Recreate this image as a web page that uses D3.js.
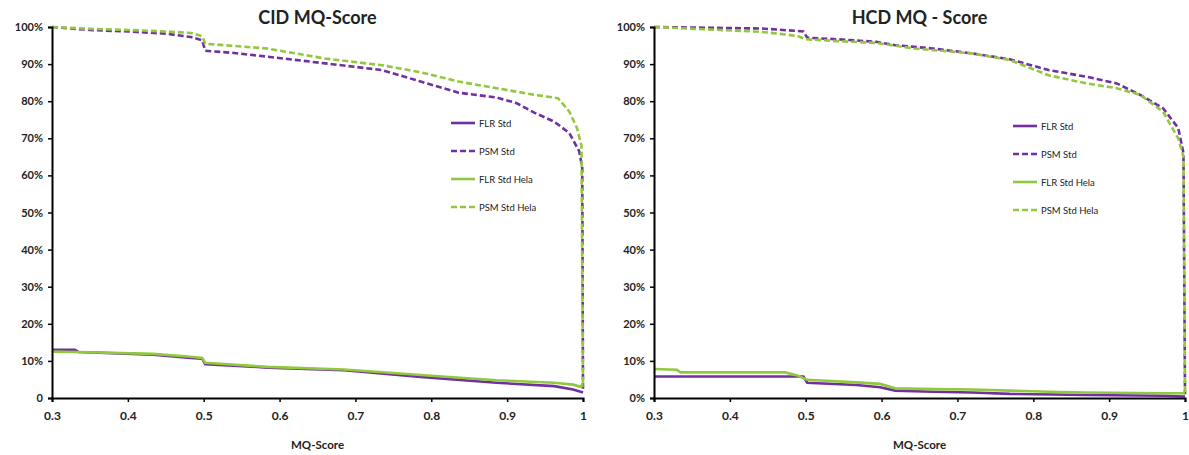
<!DOCTYPE html>
<html><head><meta charset="utf-8">
<script src="https://cdn.jsdelivr.net/npm/d3@7"></script>
<style>
body{margin:0;background:#fff;}
svg{display:block;}
text{font-family:Lato,"Liberation Sans",sans-serif;fill:#222;}
</style></head><body>
<svg id="c" width="1189" height="455"></svg>
<script>
// ---- data (MQ-Score, percent) ----
const xTicks = [0.3,0.4,0.5,0.6,0.7,0.8,0.9,1];
const xTickLabels = ["0.3","0.4","0.5","0.6","0.7","0.8","0.9","1"];
const yTicks = [0,10,20,30,40,50,60,70,80,90,100];
const cidYTickLabels = ["0","10%","20%","30%","40%","50%","60%","70%","80%","90%","100%"];
const hcdYTickLabels = ["0%","10%","20%","30%","40%","50%","60%","70%","80%","90%","100%"];
const seriesNames = ["FLR Std","PSM Std","FLR Std Hela","PSM Std Hela"];
const titles = ["CID MQ-Score","HCD MQ - Score"];

const cidFlrStd = [[0.3,13],[0.33,13],[0.335,12.4],[0.433,11.7],[0.483,10.8],[0.498,10.6],[0.502,9.1],[0.533,8.8],[0.584,8.2],[0.685,7.5],[0.786,5.7],[0.886,4.1],[0.962,3.2],[0.987,2.3],[1.0,1.5]];
const cidPsmStd = [[0.3,100],[0.35,99.2],[0.4,98.8],[0.45,98.2],[0.483,97.3],[0.498,96.4],[0.502,93.6],[0.54,93],[0.584,92],[0.66,90.2],[0.735,88.4],[0.786,85.3],[0.836,82.3],[0.886,81],[0.912,79.5],[0.937,76.8],[0.962,74.5],[0.982,71.4],[0.995,66.5],[0.999,62],[1.0,2]];
const cidFlrHela = [[0.3,12.5],[0.335,12.4],[0.433,11.9],[0.483,11.1],[0.498,10.8],[0.502,9.5],[0.584,8.4],[0.685,7.7],[0.786,6.2],[0.886,4.8],[0.962,4.1],[0.987,3.6],[0.997,3],[1.0,4]];
const cidPsmHela = [[0.3,100],[0.35,99.5],[0.4,99.2],[0.45,98.8],[0.483,98.4],[0.498,97.5],[0.502,95.5],[0.584,94.2],[0.66,91.5],[0.735,89.7],[0.786,87.8],[0.836,85.3],[0.886,83.5],[0.937,81.7],[0.967,80.8],[0.982,77.2],[0.992,72.8],[0.998,68],[1.0,3]];

const hcdFlrStd = [[0.3,5.8],[0.497,5.8],[0.502,4.1],[0.567,3.5],[0.598,2.9],[0.618,2],[0.668,1.7],[0.719,1.5],[0.769,1.1],[0.87,0.8],[0.971,0.6],[1.0,0.4]];
const hcdPsmStd = [[0.3,100],[0.366,99.8],[0.441,99.6],[0.477,99.1],[0.497,98.8],[0.502,97.1],[0.542,96.7],[0.593,96],[0.618,95.1],[0.668,94.2],[0.719,92.9],[0.769,91.3],[0.82,88.4],[0.87,86.6],[0.91,84.8],[0.941,81.7],[0.971,78.1],[0.991,72.8],[0.998,66],[1.0,1]];
const hcdFlrHela = [[0.3,7.8],[0.33,7.6],[0.335,6.9],[0.473,6.9],[0.49,6],[0.502,4.9],[0.567,4.2],[0.598,3.8],[0.618,2.6],[0.668,2.4],[0.719,2.3],[0.769,2],[0.82,1.7],[0.87,1.5],[0.971,1.3],[1.0,1.3]];
const hcdPsmHela = [[0.3,100],[0.366,99.4],[0.441,98.7],[0.477,97.9],[0.49,97.5],[0.5,96.7],[0.542,96.2],[0.593,95.7],[0.643,94.2],[0.719,92.9],[0.769,91.1],[0.82,87],[0.87,84.8],[0.91,83.5],[0.941,81.7],[0.971,77.2],[0.991,70],[0.998,65],[1.0,1.5]];

const purple = "#7030a0", green = "#92c83e";
const styles = [
  {color:purple, dash:null},
  {color:purple, dash:"6,3"},
  {color:green, dash:null},
  {color:green, dash:"6,3"}
];

const svg = d3.select("#c");

function panel(x0, x1, title, yLabels, series, legendX, legendY0){
  const x = d3.scaleLinear().domain([0.3,1]).range([x0,x1]);
  const y = d3.scaleLinear().domain([0,100]).range([398,27]);
  const g = svg.append("g");
  const line = d3.line().x(d=>x(d[0])).y(d=>y(d[1]));
  series.forEach((s,i)=>{
    g.append("path").datum(s).attr("d",line).attr("fill","none")
      .attr("stroke",styles[i].color).attr("stroke-width",2.6)
      .attr("stroke-dasharray",styles[i].dash);
  });
  const yAxis = d3.axisLeft(y).tickValues(yTicks).tickFormat((d,i)=>yLabels[i]).tickSize(4).tickPadding(5);
  const ya = g.append("g").attr("transform",`translate(${x0},0)`).call(yAxis);
  const xAxis = d3.axisBottom(x).tickValues(xTicks).tickFormat((d,i)=>xTickLabels[i]).tickSize(4).tickPadding(9);
  const xa = g.append("g").attr("transform",`translate(0,398)`).call(xAxis);
  [ya,xa].forEach(a=>{
    a.select(".domain").attr("stroke","#000").attr("stroke-width",2);
    a.selectAll(".tick line").attr("stroke","#000").attr("stroke-width",1.5);
    a.selectAll("text").attr("font-size",11).attr("font-weight","bold")
     .attr("font-family","Lato,'Liberation Sans',sans-serif").attr("fill","#222");
  });
  xa.selectAll("text").attr("font-size",12);
  g.append("text").attr("x",(x0+x1)/2).attr("y",24).attr("text-anchor","middle")
    .attr("font-size",18).attr("font-weight","bold").text(title);
  g.append("text").attr("x",(x0+x1)/2).attr("y",449).attr("text-anchor","middle")
    .attr("font-size",11.5).attr("font-weight","bold").text("MQ-Score");
  seriesNames.forEach((n,i)=>{
    const ly = legendY0 + i*28;
    g.append("line").attr("x1",legendX).attr("x2",legendX+24).attr("y1",ly).attr("y2",ly)
      .attr("stroke",styles[i].color).attr("stroke-width",2.6).attr("stroke-dasharray",styles[i].dash);
    g.append("text").attr("x",legendX+28).attr("y",ly+3.5).attr("font-size",9.5).text(n);
  });
}

panel(52, 583, titles[0], cidYTickLabels, [cidFlrStd,cidPsmStd,cidFlrHela,cidPsmHela], 451, 123);
panel(654, 1185, titles[1], hcdYTickLabels, [hcdFlrStd,hcdPsmStd,hcdFlrHela,hcdPsmHela], 1013, 126);
</script>
</body></html>
